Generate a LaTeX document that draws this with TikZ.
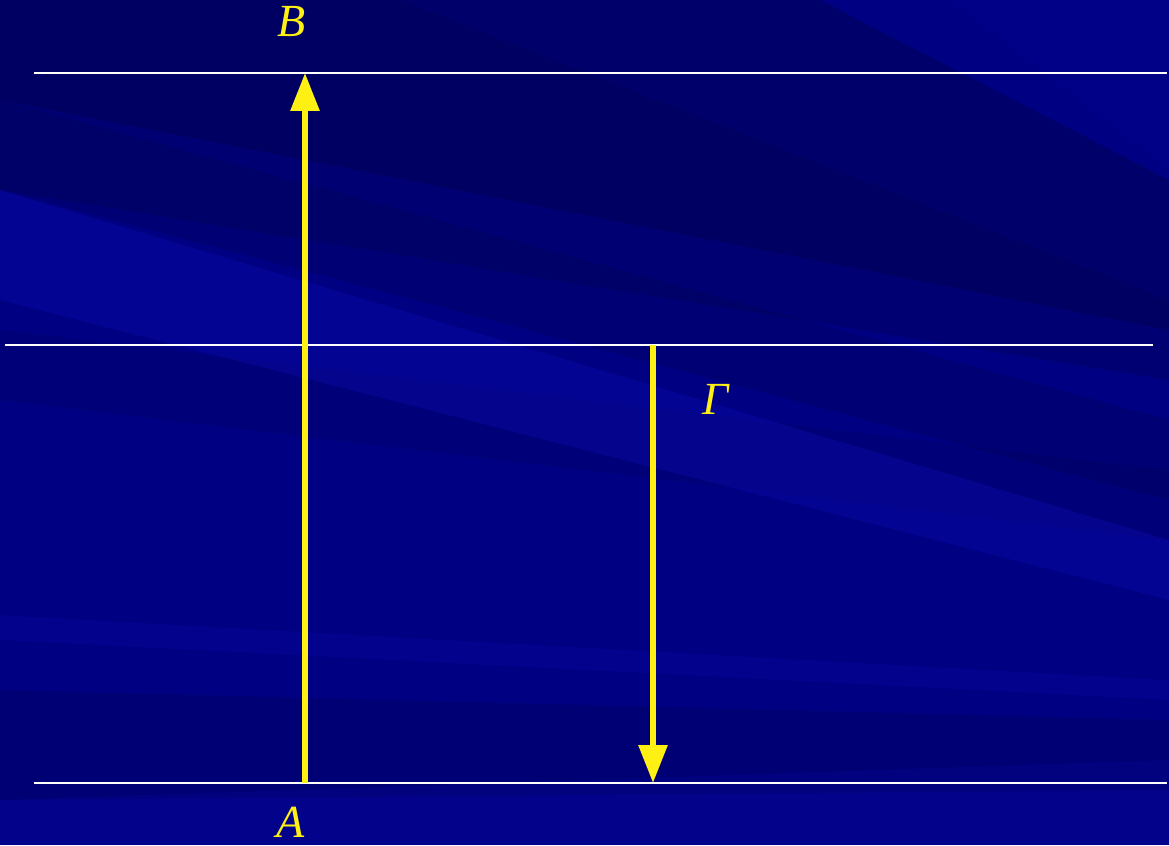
\documentclass[tikz,border=0pt]{standalone}
\usepackage{fontspec}
\setmainfont{Liberation Serif}
\usetikzlibrary{arrows.meta}
\definecolor{bgbase}{RGB}{0,0,130}
\definecolor{bgdark}{RGB}{0,0,80}
\definecolor{bglight}{RGB}{10,10,170}
\definecolor{arrowyellow}{RGB}{255,240,20}
\tikzset{
  guide/.style={draw=white, line width=1.6pt},
  vec/.style={draw=arrowyellow, line width=4.5pt, -{Triangle[width=21pt,length=28.5pt]}},
  lbl/.style={text=arrowyellow, font=\fontsize{34.5}{40}\selectfont\itshape, inner sep=0pt}
}
\begin{document}
\begin{tikzpicture}[x=0.75pt,y=-0.75pt]
\useasboundingbox (0,0) rectangle (1169,845);
% background
\fill[bgbase] (0,0) rectangle (1169,845);
\fill[bgdark, opacity=0.45] (0,0) -- (820,0) -- (1169,180) -- (1169,330) -- (0,100) -- cycle;
\fill[bgdark, opacity=0.3] (0,0) -- (400,0) -- (1169,300) -- (1169,380) -- (0,190) -- cycle;
\fill[bgdark, opacity=0.25] (0,100) -- (1169,420) -- (1169,500) -- (0,190) -- cycle;
\fill[bgdark, opacity=0.2] (0,330) -- (1169,470) -- (1169,540) -- (0,400) -- cycle;
\fill[bglight, opacity=0.4] (0,190) -- (1169,540) -- (1169,600) -- (0,300) -- cycle;
\fill[bglight, opacity=0.25] (0,615) -- (1169,680) -- (1169,700) -- (0,640) -- cycle;
\fill[bgdark, opacity=0.25] (0,690) -- (1169,720) -- (1169,790) -- (0,800) -- cycle;
\fill[bglight, opacity=0.2] (0,800) -- (1169,760) -- (1169,845) -- (0,845) -- cycle;
\fill[bglight, opacity=0.15] (950,0) -- (1169,0) -- (1169,170) -- cycle;
% coordinates
\coordinate (A) at (305,783);
\coordinate (B) at (305,73);
\coordinate (Gtop) at (653,345);
\coordinate (Gbot) at (653,783);
\coordinate (t1) at (34,73);   \coordinate (t2) at (1167,73);
\coordinate (m1) at (5,345);   \coordinate (m2) at (1153,345);
\coordinate (b1) at (34,783);  \coordinate (b2) at (1167,783);
% white lines
\draw[guide] (t1) -- (t2);
\draw[guide] (m1) -- (m2);
\draw[guide] (b1) -- (b2);
% arrows
\draw[vec] (A) -- (B);
\draw[vec] (Gtop) -- (Gbot);
% labels
\node[lbl] (lB) at (292,22) {B};
\node[lbl] (lA) at (291,822) {A};
\node[lbl] (lG) at (716,399) {Γ};
\end{tikzpicture}
\end{document}
